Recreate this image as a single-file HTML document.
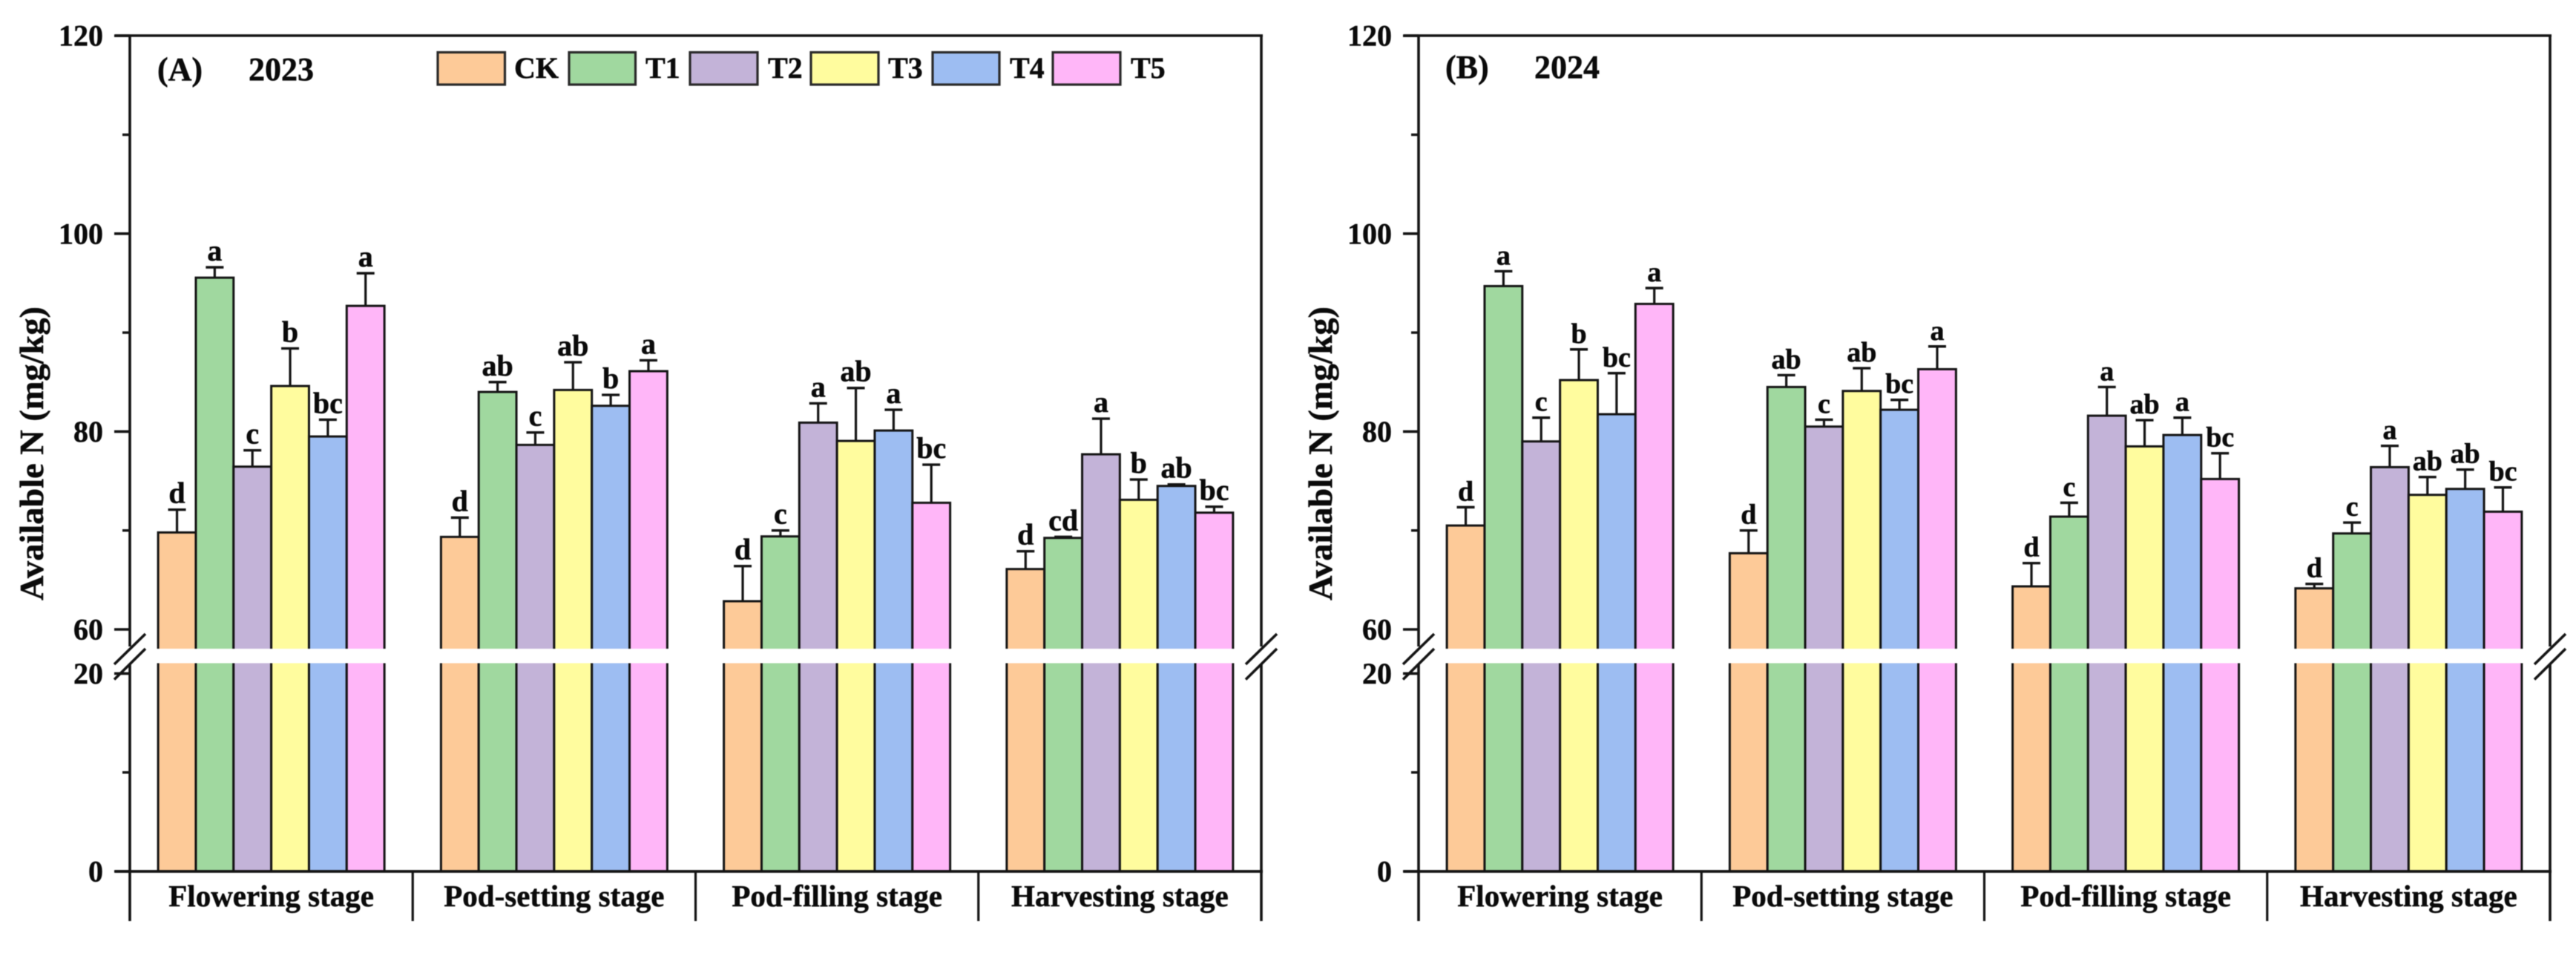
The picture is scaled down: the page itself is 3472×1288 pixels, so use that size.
<!DOCTYPE html>
<html lang="en">
<head>
<meta charset="utf-8">
<title>Available N by growth stage, 2023 and 2024</title>
<style>
  html, body { margin: 0; padding: 0; background: #fff; }
  body { width: 3472px; height: 1288px; overflow: hidden; }
  svg { display: block; filter: blur(0.55px); }
  text { font-family: "Liberation Serif", "Times New Roman", serif; font-weight: bold; fill: #0a0a0a; stroke: #0a0a0a; stroke-width: 0.5px; }
</style>
</head>
<body>
<svg id="chart" xmlns="http://www.w3.org/2000/svg" width="3472" height="1288" viewBox="0 0 3472 1288">
  <rect x="0" y="0" width="3472" height="1288" fill="#ffffff"/>
</svg>
<script>
// ---- shared categories / ticks ----
const categories = ["Flowering stage", "Pod-setting stage", "Pod-filling stage", "Harvesting stage"];
const seriesNames = ["CK", "T1", "T2", "T3", "T4", "T5"];
const seriesColors = ["#FDCA98", "#A0D89F", "#C3B3D8", "#FFFC9E", "#9DBDF2", "#FFB6F8"];
const majorTicks = [120, 100, 80, 60, 20, 0];
const minorTicks = [110, 90, 70, 10];

// ---- 2023 means ----
const ck2023 = [69.8, 69.35, 62.85, 66.1];
const t1Of2023 = [95.55, 84.0, 69.4, 69.25];
const t2Of2023 = [76.45, 78.65, 80.9, 77.7];
const t3Of2023 = [84.6, 84.2, 79.05, 73.1];
const t4Of2023 = [79.5, 82.6, 80.1, 74.5];
const t5Of2023 = [92.7, 86.1, 72.8, 71.8];
// ---- 2023 error bars ----
const ck2023Err = [2.3, 1.95, 3.55, 1.8];
const t1Of2023Err = [1.05, 1.0, 0.6, 0.1];
const t2Of2023Err = [1.65, 1.25, 1.95, 3.6];
const t3Of2023Err = [3.8, 2.8, 5.35, 2.05];
const t4Of2023Err = [1.7, 1.1, 2.1, 0.15];
const t5Of2023Err = [3.3, 1.1, 3.85, 0.6];
// ---- 2023 significance letters ----
const ck2023Sig = ["d", "d", "d", "d"];
const t1Of2023Sig = ["a", "ab", "c", "cd"];
const t2Of2023Sig = ["c", "c", "a", "a"];
const t3Of2023Sig = ["b", "ab", "ab", "b"];
const t4Of2023Sig = ["bc", "b", "a", "ab"];
const t5Of2023Sig = ["a", "a", "bc", "bc"];

// ---- 2024 means ----
const ck2024 = [70.5, 67.7, 64.35, 64.15];
const t1Of2024 = [94.7, 84.5, 71.4, 69.7];
const t2Of2024 = [79.0, 80.5, 81.6, 76.4];
const t3Of2024 = [85.2, 84.1, 78.5, 73.6];
const t4Of2024 = [81.75, 82.2, 79.65, 74.2];
const t5Of2024 = [92.9, 86.3, 75.2, 71.9];
// ---- 2024 error bars ----
const ck2024Err = [1.85, 2.3, 2.35, 0.45];
const t1Of2024Err = [1.5, 1.2, 1.4, 1.1];
const t2Of2024Err = [2.4, 0.7, 2.9, 2.15];
const t3Of2024Err = [3.1, 2.3, 2.65, 1.8];
const t4Of2024Err = [4.15, 1.0, 1.75, 1.95];
const t5Of2024Err = [1.6, 2.3, 2.6, 2.45];
// ---- 2024 significance letters ----
const ck2024Sig = ["d", "d", "d", "d"];
const t1Of2024Sig = ["a", "ab", "c", "c"];
const t2Of2024Sig = ["c", "c", "a", "a"];
const t3Of2024Sig = ["b", "ab", "ab", "ab"];
const t4Of2024Sig = ["bc", "bc", "a", "ab"];
const t5Of2024Sig = ["a", "a", "bc", "bc"];

const means2023 = [ck2023, t1Of2023, t2Of2023, t3Of2023, t4Of2023, t5Of2023];
const errs2023 = [ck2023Err, t1Of2023Err, t2Of2023Err, t3Of2023Err, t4Of2023Err, t5Of2023Err];
const sigs2023 = [ck2023Sig, t1Of2023Sig, t2Of2023Sig, t3Of2023Sig, t4Of2023Sig, t5Of2023Sig];
const means2024 = [ck2024, t1Of2024, t2Of2024, t3Of2024, t4Of2024, t5Of2024];
const errs2024 = [ck2024Err, t1Of2024Err, t2Of2024Err, t3Of2024Err, t4Of2024Err, t5Of2024Err];
const sigs2024 = [ck2024Sig, t1Of2024Sig, t2Of2024Sig, t3Of2024Sig, t4Of2024Sig, t5Of2024Sig];

// ---- layout ----
const NS = "http://www.w3.org/2000/svg";
const svg = document.getElementById("chart");
const INK = "#141414";
const unitPx = 13.33;
const y60 = 848, y0 = 1174;
const plotTop = 48, plotBottomExt = 1241;
const gapTop = 874, gapBottom = 893.5;
const catWidth = 381.25;
const barWidth = catWidth / 7.5;

function yScale(v) {
  return v >= 40 ? y60 - (v - 60) * unitPx : y0 - v * unitPx;
}
function xBar(axisLeft, cat, ser) {
  return axisLeft + catWidth * cat + barWidth * 0.75 + barWidth * ser;
}
function add(tag, attrs, parent, content) {
  const el = document.createElementNS(NS, tag);
  for (const k in attrs) el.setAttribute(k, attrs[k]);
  if (content !== undefined) el.textContent = content;
  (parent || svg).appendChild(el);
  return el;
}
function line(x1, y1, x2, y2, w, parent) {
  return add("line", { x1: x1, y1: y1, x2: x2, y2: y2, stroke: INK, "stroke-width": w }, parent);
}

function drawPanel(key, axisLeft, letter, year, labelX, yearX, headY, sigSize, means, errs, sigs) {
  const g = add("g", {});
  
  
  const axisRight = axisLeft + catWidth * 4;

  // bars, error bars, letters
  categories.forEach(function (cat, c) {
    seriesNames.forEach(function (name, s) {
      const v = means[s][c];
      const e = errs[s][c];
      const bx = xBar(axisLeft, c, s);
      const cx = bx + barWidth / 2;
      const capY = yScale(v + e);

      const stem = line(cx, yScale(v), cx, capY, 3.2, g);
      
      
      const cap = line(cx - 12, capY, cx + 12, capY, 3.4, g);
      
      

      const bar = add("rect", {
        x: bx, y: yScale(v), width: barWidth, height: y0 - yScale(v),
        fill: seriesColors[s], stroke: INK, "stroke-width": 3
      }, g);
      
      

      const sig = add("text", { x: cx, y: capY - 9, "font-size": sigSize, "text-anchor": "middle" }, g, sigs[s][c]);
      
      
    });
    // white axis-break band across the group
    const band = add("rect", {
      x: xBar(axisLeft, c, 0) - 4, y: gapTop, width: barWidth * 6 + 8, height: gapBottom - gapTop, fill: "#ffffff"
    }, g);
    
    
  });

  // frame
  const top = line(axisLeft - 20, plotTop, axisRight + 2, plotTop, 3.6, g);
  
  
  const bottom = line(axisLeft - 20, y0, axisRight + 2, y0, 3.8, g);
  
  
  [axisLeft, axisRight].forEach(function (x) {
    const upper = line(x, plotTop, x, 871, 3.6, g);
    
    
    const lower = line(x, 895, x, plotBottomExt, 3.6, g);
    
    
    const slashA = line(x - 21, 895, x + 21, 854, 3.6, g);
    
    
    const slashB = line(x - 21, 915.5, x + 21, 874, 3.6, g);
    
    
  });

  // category separators and labels
  categories.forEach(function (cat, c) {
    if (c > 0) {
      const sep = line(axisLeft + catWidth * c, y0, axisLeft + catWidth * c, plotBottomExt, 3.2, g);
      
      
    }
    const lab = add("text", {
      x: axisLeft + catWidth * (c + 0.5), y: 1221, "font-size": 41, "text-anchor": "middle"
    }, g, cat);
    
    
  });

  // y ticks
  majorTicks.forEach(function (t) {
    const tk = line(axisLeft - 21, yScale(t), axisLeft, yScale(t), 3.6, g);
    
    
    const lab = add("text", {
      x: axisLeft - 36, y: yScale(t) + 13.5, "font-size": 40, "text-anchor": "end"
    }, g, String(t));
    
    
  });
  minorTicks.forEach(function (t) {
    const tk = line(axisLeft - 10, yScale(t), axisLeft, yScale(t), 3.4, g);
    
    
  });

  // y title
  const titleX = axisLeft - 117;
  const title = add("text", {
    x: titleX, y: 611, "font-size": 46, "text-anchor": "middle",
    textLength: 396, lengthAdjust: "spacingAndGlyphs",
    transform: "rotate(-90 " + titleX + " 611)"
  }, g, "Available N (mg/kg)");
  
  

  // panel heading
  const letterEl = add("text", { x: labelX, y: headY, "font-size": 44 }, g, letter);
  
  
  const yearEl = add("text", { x: yearX, y: headY, "font-size": 44 }, g, year);
  
  
}

drawPanel("2023", 175, "(A)", "2023", 212, 335, 108, 40, means2023, errs2023, sigs2023);
drawPanel("2024", 1912, "(B)", "2024", 1948, 2068, 105, 38, means2024, errs2024, sigs2024);

// ---- legend ----
const legendSwatchX = [590, 767, 930, 1093, 1257, 1419];
const legendSwatchW = [90.5, 89.5, 91, 91, 90, 91];
const legendTextX = [693, 870, 1035, 1197, 1361, 1524];
const legend = add("g", {});


seriesNames.forEach(function (name, s) {
  const sw = add("rect", {
    x: legendSwatchX[s], y: 70.5, width: legendSwatchW[s], height: 43.5,
    fill: seriesColors[s], stroke: "#2a2a2a", "stroke-width": 3.2
  }, legend);
  
  
  const tx = add("text", { x: legendTextX[s], y: 105, "font-size": 40 }, legend, name);
  
  
});
</script>
</body>
</html>
